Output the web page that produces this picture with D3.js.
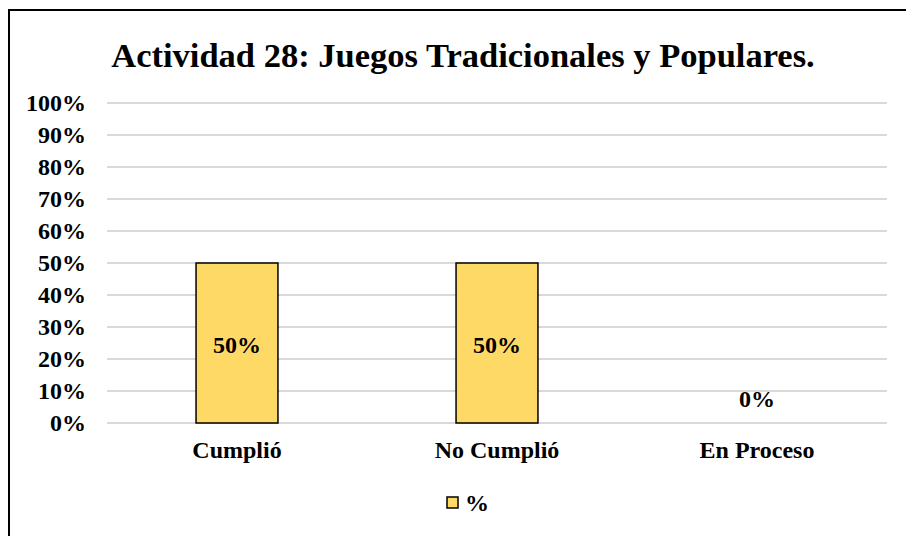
<!DOCTYPE html>
<html>
<head>
<meta charset="utf-8">
<script src="https://cdn.jsdelivr.net/npm/d3@7"></script>
<style>
  html, body { margin: 0; padding: 0; background: #fff; }
  svg { display: block; }
  text { font-family: "Liberation Serif", "Times New Roman", serif; font-weight: bold; fill: #000; }
</style>
</head>
<body>
<svg id="chart" width="906" height="536"></svg>
<script>
// Chart data
const title = "Actividad 28: Juegos Tradicionales y Populares.";
const categories = ["Cumplió", "No Cumplió", "En Proceso"];
const values = [0.50, 0.50, 0.00];
const yTicks = [0, 0.1, 0.2, 0.3, 0.4, 0.5, 0.6, 0.7, 0.8, 0.9, 1.0];
const seriesName = "%";

const W = 906, H = 536;
const plot = { left: 107, right: 887, top: 103, bottom: 423 };
const barColor = "#FFD966";
const labelSize = "24px";

const svg = d3.select("#chart");

// Frame around the chart area
svg.append("path")
  .attr("d", `M9,${H} L9,10 L${W},10`)
  .attr("fill", "none")
  .attr("stroke", "#000")
  .attr("stroke-width", 2);

// Title
svg.append("text")
  .attr("x", 463)
  .attr("y", 67)
  .attr("text-anchor", "middle")
  .style("font-size", "34.5px")
  .text(title);

const x = d3.scaleBand()
  .domain(categories)
  .range([plot.left, plot.right])
  .paddingInner(0.685)
  .paddingOuter(0.3425);

const y = d3.scaleLinear()
  .domain([0, 1])
  .range([plot.bottom, plot.top]);

// Horizontal gridlines
svg.append("g")
  .selectAll("line")
  .data(yTicks)
  .join("line")
  .attr("x1", plot.left)
  .attr("x2", plot.right)
  .attr("y1", d => y(d))
  .attr("y2", d => y(d))
  .attr("stroke", "#d9d9d9")
  .attr("stroke-width", 2);

// Y axis labels
const yAxis = d3.axisLeft(y)
  .tickValues(yTicks)
  .tickFormat(d3.format(".0%"))
  .tickSize(0)
  .tickPadding(0);

svg.append("g")
  .attr("transform", `translate(86,0)`)
  .call(yAxis)
  .call(g => g.select(".domain").remove())
  .call(g => g.selectAll("text")
    .style("font-size", labelSize)
    .style("font-family", "'Liberation Serif', 'Times New Roman', serif")
    .attr("fill", "#000"));

// Bars
svg.append("g")
  .selectAll("rect")
  .data(values)
  .join("rect")
  .attr("x", (d, i) => x(categories[i]))
  .attr("y", d => y(d))
  .attr("width", x.bandwidth())
  .attr("height", d => y(0) - y(d))
  .attr("fill", barColor)
  .attr("stroke", d => d > 0 ? "#000" : "none")
  .attr("stroke-width", 1.5);

// Value labels
const fmt = d3.format(".0%");
svg.append("g")
  .selectAll("text")
  .data(values)
  .join("text")
  .attr("x", (d, i) => x(categories[i]) + x.bandwidth() / 2)
  .attr("y", d => d > 0 ? (y(d) + y(0)) / 2 + 2 : y(0) - 24)
  .attr("dy", "0.35em")
  .attr("text-anchor", "middle")
  .style("font-size", labelSize)
  .text(d => fmt(d));

// Category axis labels
const xAxis = d3.axisBottom(x).tickSize(0).tickPadding(0);
svg.append("g")
  .attr("transform", `translate(0,${plot.bottom + 18})`)
  .call(xAxis)
  .call(g => g.select(".domain").remove())
  .call(g => g.selectAll("text")
    .style("font-size", labelSize)
    .style("font-family", "'Liberation Serif', 'Times New Roman', serif")
    .attr("fill", "#000"));

// Legend
const legend = svg.append("g").attr("transform", "translate(447,497)");
legend.append("rect")
  .attr("x", 0).attr("y", 0)
  .attr("width", 11).attr("height", 11)
  .attr("fill", barColor)
  .attr("stroke", "#000")
  .attr("stroke-width", 1.5);
legend.append("text")
  .attr("x", 18)
  .attr("y", 6)
  .attr("dy", "0.35em")
  .style("font-size", labelSize)
  .text(seriesName);
</script>
</body>
</html>
